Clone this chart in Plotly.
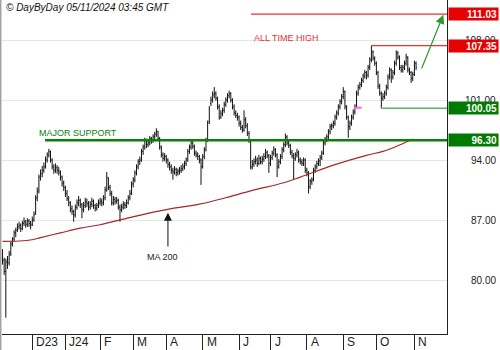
import pandas as pd
import plotly.graph_objects as go

# ---- trading calendar (NYSE sessions) ----
HOLIDAYS = ["2023-11-23", "2023-12-25", "2024-01-01", "2024-01-15", "2024-02-19",
            "2024-03-29", "2024-05-27", "2024-06-19", "2024-07-04", "2024-09-02"]
sessions = pd.bdate_range("2023-11-06", "2024-11-04", freq="C", holidays=HOLIDAYS)

# ---- daily OHLC ----
open_ = [
    83.0, 82.3, 81.0, 82.1, 82.0, 83.1, 84.2, 84.8, 85.5, 85.9,
    86.2, 86.4, 86.0, 86.6, 86.8, 86.5, 86.9, 86.6, 86.5, 87.0,
    87.8, 89.6, 90.4, 92.0, 92.4, 92.8, 93.3, 94.0, 94.6, 94.9,
    94.0, 93.2, 92.8, 93.1, 92.8, 92.5, 92.0, 91.3, 90.8, 90.1,
    89.5, 89.0, 88.3, 88.0, 87.6, 88.5, 89.0, 89.3, 88.8, 88.2,
    88.7, 89.1, 88.9, 88.5, 88.8, 89.2, 88.7, 88.4, 88.7, 89.0,
    89.2, 89.0, 89.6, 90.5, 91.8, 90.8, 90.1, 89.0, 89.4, 89.2,
    89.3, 88.5, 88.2, 88.5, 88.8, 88.7, 89.0, 89.6, 90.1, 91.2,
    91.7, 92.5, 93.2, 93.8, 94.0, 95.0, 95.5, 96.3, 95.8, 96.0,
    96.5, 96.3, 96.7, 97.0, 97.3, 96.5, 95.5, 94.6, 94.2, 94.4,
    94.0, 93.5, 93.2, 92.8, 92.6, 92.9, 92.5, 92.7, 92.8, 93.0,
    93.2, 93.6, 94.0, 95.0, 95.5, 96.0, 95.6, 94.8, 94.6, 94.4,
    94.0, 93.2, 94.4, 95.2, 96.3, 98.5, 100.6, 101.0, 101.6, 101.8,
    101.2, 100.2, 99.0, 99.4, 99.8, 100.5, 101.0, 101.5, 101.8, 101.0,
    100.2, 99.5, 99.2, 99.0, 98.3, 97.8, 97.5, 98.7, 98.0, 97.1,
    96.3, 93.2, 93.5, 93.8, 94.0, 93.6, 94.2, 93.8, 94.1, 94.4,
    94.9, 94.5, 93.6, 94.3, 94.8, 95.2, 94.6, 93.2, 93.8, 94.4,
    95.2, 95.8, 96.7, 96.0, 95.7, 94.9, 94.5, 94.2, 94.6, 94.9,
    94.0, 93.8, 93.6, 94.0, 92.8, 92.5, 90.9, 91.5, 91.7, 92.8,
    93.2, 93.6, 93.9, 94.3, 94.8, 96.0, 96.4, 96.7, 97.3, 97.9, 98.0,
    98.3, 99.0, 99.5, 100.2, 100.8, 101.4, 102.0, 100.2, 99.0, 97.9,
    98.3, 99.0, 99.6, 100.3, 101.8, 102.5, 102.8, 103.3, 103.8, 104.2,
    103.9, 104.8, 105.7, 106.6, 105.9, 105.3, 104.2, 102.6, 101.8, 101.2,
    101.4, 101.8, 102.5, 103.7, 104.5, 103.7, 104.2, 105.3, 106.5, 106.0,
    104.8, 104.5, 104.8, 105.3, 106.0, 104.5, 104.2, 103.5, 104.0, 105.3,
]
high = [
    83.6, 82.6, 82.5, 82.8, 83.4, 84.5, 85.0, 85.8, 86.1, 86.6,
    86.8, 86.6, 86.9, 87.3, 87.0, 87.2, 87.1, 86.9, 87.4, 88.0,
    89.9, 90.8, 92.3, 92.9, 93.3, 93.7, 94.4, 94.9, 95.3, 95.1,
    94.2, 93.5, 93.6, 93.4, 93.2, 92.8, 92.2, 91.6, 91.0, 90.5,
    89.8, 89.2, 88.7, 88.2, 88.8, 89.4, 89.8, 89.5, 89.0, 89.1,
    89.6, 89.5, 89.2, 89.2, 89.6, 89.4, 88.9, 89.0, 89.4, 89.6,
    89.5, 89.9, 90.9, 92.6, 92.0, 91.1, 90.4, 89.8, 89.7, 89.7,
    89.5, 88.8, 88.9, 89.2, 89.1, 89.4, 89.9, 90.5, 91.5, 92.0,
    92.8, 93.5, 94.1, 94.4, 95.3, 95.8, 96.6, 96.5, 96.3, 96.8,
    96.7, 97.0, 97.3, 97.7, 97.4, 96.7, 95.7, 94.9, 94.8, 94.6,
    94.2, 93.8, 93.5, 93.1, 93.3, 93.1, 93.0, 93.2, 93.4, 93.6,
    93.9, 94.3, 95.3, 95.8, 96.4, 96.2, 95.8, 95.1, 94.9, 94.6,
    94.2, 94.7, 95.5, 96.6, 98.6, 100.3, 101.4, 102.0, 102.5, 102.0,
    101.4, 100.5, 99.8, 100.1, 100.8, 101.3, 101.8, 102.1, 101.9, 101.2,
    100.5, 99.8, 99.5, 99.2, 98.6, 98.1, 99.8, 99.0, 98.3, 97.4,
    96.3, 94.0, 94.2, 94.5, 94.3, 94.6, 94.4, 94.5, 94.8, 95.3,
    95.1, 94.7, 94.6, 95.1, 95.6, 95.4, 94.8, 94.1, 94.7, 95.5,
    96.1, 97.1, 96.9, 96.3, 95.9, 95.2, 94.8, 94.9, 95.3, 95.1,
    94.3, 94.1, 94.3, 94.2, 93.1, 92.7, 91.8, 92.0, 93.1, 93.5,
    93.9, 94.2, 94.6, 95.1, 96.3, 96.7, 97.0, 97.6, 98.2, 98.3, 98.6,
    99.3, 99.8, 100.5, 101.1, 101.7, 102.5, 102.1, 100.4, 99.2, 98.6,
    99.3, 99.9, 100.5, 102.1, 102.8, 103.1, 103.6, 104.1, 104.5, 104.4,
    105.1, 106.0, 107.35, 106.8, 106.1, 105.5, 104.4, 102.9, 102.0, 101.8,
    102.1, 102.8, 104.0, 104.8, 104.7, 104.5, 105.6, 106.8, 106.7, 106.2,
    105.1, 105.1, 105.6, 106.4, 106.1, 104.8, 104.4, 104.3, 105.6, 105.5,
]
low = [
    81.8, 80.6, 75.6, 81.3, 81.7, 82.8, 83.9, 84.5, 85.0, 85.6,
    85.9, 85.6, 85.8, 86.3, 86.1, 86.2, 86.2, 85.9, 86.3, 86.8,
    87.6, 89.2, 90.1, 91.6, 92.0, 92.5, 93.0, 93.7, 94.3, 93.7,
    92.9, 92.4, 92.5, 92.4, 92.2, 91.6, 90.9, 90.4, 89.7, 89.2,
    88.6, 87.9, 87.6, 86.8, 87.3, 88.2, 88.6, 88.4, 87.2, 87.9,
    88.4, 88.5, 88.1, 88.2, 88.5, 88.3, 88.0, 88.1, 88.4, 88.7,
    88.6, 88.7, 89.3, 90.3, 90.5, 89.8, 88.7, 88.7, 88.8, 88.9,
    88.2, 86.8, 87.9, 88.2, 88.3, 88.4, 88.8, 89.3, 89.9, 90.8,
    91.4, 92.2, 92.9, 93.4, 93.8, 94.6, 95.2, 95.4, 95.5, 95.7,
    95.9, 96.0, 96.4, 96.7, 96.2, 95.2, 94.3, 93.8, 93.9, 93.6,
    93.1, 92.8, 92.4, 91.7, 92.3, 92.1, 92.2, 92.3, 92.5, 92.7,
    92.9, 93.3, 93.8, 94.7, 95.2, 95.3, 94.5, 94.3, 94.0, 93.6,
    91.1, 93.0, 94.1, 95.0, 96.1, 98.2, 100.3, 100.7, 101.2, 100.9,
    99.9, 98.7, 98.8, 99.1, 99.5, 100.2, 100.7, 101.2, 100.7, 99.9,
    99.2, 98.9, 98.6, 97.9, 97.5, 97.2, 97.3, 97.7, 96.8, 96.0,
    92.9, 92.9, 93.2, 93.5, 93.2, 93.4, 93.5, 93.5, 93.8, 94.1,
    94.2, 92.5, 93.3, 94.0, 94.5, 94.3, 92.0, 93.0, 93.5, 94.1,
    94.9, 95.5, 95.7, 95.4, 94.6, 94.2, 91.7, 93.9, 94.3, 93.7,
    93.5, 93.3, 93.3, 92.5, 92.1, 90.1, 90.6, 91.1, 91.5, 92.5,
    92.9, 93.3, 93.3, 94.0, 94.6, 95.7, 96.1, 96.4, 97.0, 97.5, 97.7,
    98.0, 98.7, 99.2, 99.9, 100.5, 101.1, 99.9, 98.7, 96.6, 97.5,
    98.0, 98.7, 99.3, 100.1, 101.5, 102.2, 102.5, 103.0, 103.5, 103.4,
    103.6, 104.5, 105.4, 105.6, 105.0, 103.9, 102.3, 101.5, 100.05, 100.9,
    101.1, 101.5, 102.2, 103.4, 103.0, 103.4, 103.9, 105.0, 105.7, 104.5,
    104.2, 104.2, 104.5, 105.0, 104.2, 103.9, 103.0, 103.2, 103.8, 104.5,
]
close = [
    82.3, 81.0, 82.1, 82.0, 83.0, 84.2, 84.7, 85.5, 85.8, 86.2,
    86.4, 86.0, 86.6, 86.8, 86.5, 86.9, 86.6, 86.4, 87.0, 87.6,
    89.5, 90.3, 92.0, 92.4, 92.8, 93.2, 94.0, 94.6, 95.0, 94.0,
    93.2, 92.8, 93.1, 92.8, 92.6, 92.0, 91.3, 90.8, 90.1, 89.5,
    89.0, 88.3, 88.0, 87.6, 88.5, 89.0, 89.3, 88.8, 88.2, 88.7,
    89.1, 88.9, 88.5, 88.8, 89.2, 88.7, 88.4, 88.7, 89.0, 89.2,
    89.0, 89.6, 90.5, 92.0, 90.8, 90.1, 89.0, 89.4, 89.2, 89.3,
    88.5, 88.2, 88.5, 88.8, 88.7, 89.0, 89.6, 90.1, 91.2, 91.7,
    92.5, 93.2, 93.8, 94.0, 95.0, 95.5, 96.3, 95.8, 96.0, 96.5,
    96.3, 96.7, 97.0, 97.3, 96.5, 95.5, 94.6, 94.2, 94.4, 94.0,
    93.5, 93.2, 92.8, 92.6, 92.9, 92.5, 92.7, 92.8, 93.0, 93.2,
    93.6, 94.0, 95.0, 95.5, 96.0, 95.6, 94.8, 94.6, 94.4, 94.0,
    93.2, 94.4, 95.2, 96.3, 98.3, 100.0, 101.0, 101.6, 101.8, 101.2,
    100.2, 99.0, 99.4, 99.8, 100.5, 101.0, 101.5, 101.8, 101.0, 100.2,
    99.5, 99.2, 99.0, 98.3, 97.8, 97.5, 98.7, 98.0, 97.1, 96.3,
    93.2, 93.5, 93.8, 94.0, 93.6, 94.2, 93.8, 94.1, 94.4, 94.9,
    94.5, 93.6, 94.3, 94.8, 95.2, 94.6, 93.2, 93.8, 94.4, 95.2,
    95.8, 96.7, 96.0, 95.7, 94.9, 94.5, 94.2, 94.6, 94.9, 94.0,
    93.8, 93.6, 94.0, 92.8, 92.5, 90.9, 91.5, 91.7, 92.8, 93.2,
    93.6, 93.9, 94.3, 94.8, 96.0, 96.4, 96.7, 97.3, 97.9, 98.0, 98.3,
    99.0, 99.5, 100.2, 100.8, 101.4, 102.0, 100.2, 99.0, 97.9, 98.3,
    99.0, 99.6, 100.2, 101.8, 102.5, 102.8, 103.3, 103.8, 104.2, 103.9,
    104.8, 105.7, 106.6, 105.9, 105.3, 104.2, 102.6, 101.8, 101.2, 101.4,
    101.8, 102.5, 103.7, 104.5, 103.7, 104.2, 105.3, 106.5, 106.0, 104.8,
    104.5, 104.8, 105.3, 106.0, 104.5, 104.2, 103.5, 104.0, 105.3, 104.8,
]

# ---- 200-day moving average (session index, value) ----
ma_idx = [0, 10, 18, 23, 35, 47, 59, 75, 92, 100, 119, 135, 150, 170, 180, 200, 220, 230, 240, 248]
ma_val = [84.5, 84.55, 84.7, 84.95, 85.5, 86.05, 86.45, 87.2, 87.95, 88.25, 88.85,
          89.6, 90.4, 91.35, 92.0, 93.4, 94.55, 95.0, 95.75, 96.45]

# ---- levels and labels ----
TARGET = 111.03
SUPPORT = 96.30
GAP_MARK = 100.1
Y_TICKS = [80, 87, 94, 101, 108]
MONTH_LABELS = ["D23", "J24", "F", "M", "A", "M", "J", "J", "A", "S", "O", "N"]
STAMP = "© DayByDay 05/11/2024 03:45 GMT"

FONT = "Liberation Sans, Arial, sans-serif"
RED = "#e8302c"
BOX_RED = "#e60000"
BOX_GREEN = "#007a00"
DARK_GREEN = "#0a820a"
LIGHT_GREEN = "#5cb85c"
MA_COLOR = "#a3282b"

n = len(close)
assert len(open_) == len(high) == len(low) == n == len(sessions)
idx = list(range(n))

ath = max(high)
ath_i = high.index(ath)
recent_low = min(low[-30:])
recent_low_i = n - 30 + low[-30:].index(recent_low)

X0, X1 = -0.32, 268.7
Y0, Y1 = 73.70, 112.67

# first session of each month from December onward
month_starts = [i for i in range(1, n) if sessions[i].month != sessions[i - 1].month]

fig = go.Figure()
fig.add_trace(go.Ohlc(
    x=idx, open=open_, high=high, low=low, close=close,
    increasing=dict(line=dict(color="#111", width=1)),
    decreasing=dict(line=dict(color="#111", width=1)),
    tickwidth=0.45, hoverinfo="skip",
))
fig.add_trace(go.Scatter(
    x=ma_idx, y=ma_val, mode="lines",
    line=dict(color=MA_COLOR, width=1.2, shape="spline"), hoverinfo="skip",
))

shapes = [
    dict(type="line", xref="x", yref="y", x0=150.2, x1=X1, y0=TARGET, y1=TARGET,
         line=dict(color=RED, width=1.2)),
    dict(type="line", xref="x", yref="y", x0=ath_i, x1=X1, y0=ath, y1=ath,
         line=dict(color=RED, width=1.2)),
    dict(type="line", xref="x", yref="y", x0=recent_low_i, x1=X1, y0=recent_low, y1=recent_low,
         line=dict(color=LIGHT_GREEN, width=1.5)),
    dict(type="line", xref="x", yref="y", x0=25.7, x1=X1, y0=SUPPORT, y1=SUPPORT,
         line=dict(color=DARK_GREEN, width=2.6)),
    dict(type="line", xref="x", yref="y", x0=212.4, x1=217.1, y0=GAP_MARK, y1=GAP_MARK,
         line=dict(color="#ff66e6", width=2)),
    # left frame edge
    dict(type="line", xref="paper", yref="paper", x0=-1.3 / 445, x1=-1.3 / 445,
         y0=-16 / 334, y1=1, line=dict(color="#a0a0a0", width=1.5)),
]

annotations = []
# price scale labels
for v in Y_TICKS:
    annotations.append(dict(
        xref="paper", yref="y", x=(498 - 2) / 445, y=v, xanchor="right", yanchor="middle",
        text=f"{v:.2f}", showarrow=False, font=dict(size=10, color="#222", family=FONT)))
# level value boxes
for v, col in [(TARGET, BOX_RED), (ath, BOX_RED), (recent_low, BOX_GREEN), (SUPPORT, BOX_GREEN)]:
    annotations.append(dict(
        xref="paper", yref="y", x=(448 - 2) / 445, y=v, xanchor="left", yanchor="middle",
        text=f"<b>{v:.2f}</b>", showarrow=False, bgcolor=col, width=47, height=10,
        borderpad=1, align="right", valign="middle",
        font=dict(size=10, color="white", family=FONT)))
# month labels
for i, lab in zip(month_starts, MONTH_LABELS):
    annotations.append(dict(
        xref="x", yref="paper", x=i, y=-8 / 334, xanchor="left", yanchor="middle",
        xshift=2, text=lab, showarrow=False, font=dict(size=12, color="#222", family=FONT)))
# text notes
annotations += [
    dict(xref="paper", yref="paper", x=2 / 445, y=(334 - 7) / 334, xanchor="left",
         yanchor="middle", text=f"<i>{STAMP}</i>", showarrow=False,
         font=dict(size=10, color="#111", family=FONT)),
    dict(xref="x", yref="y", x=150.6, y=108.2, xanchor="left", yanchor="middle",
         text="ALL TIME HIGH", showarrow=False, font=dict(size=9, color=RED, family=FONT)),
    dict(xref="x", yref="y", x=20.7, y=97.18, xanchor="left", yanchor="middle",
         text="MAJOR SUPPORT", showarrow=False, font=dict(size=9, color=DARK_GREEN, family=FONT)),
    dict(xref="x", yref="y", x=96.6, y=82.72, xanchor="center", yanchor="middle",
         text="MA 200", showarrow=False, font=dict(size=9, color="#222", family=FONT)),
    # pointer to the moving average
    dict(xref="x", yref="y", axref="x", ayref="y", x=100.0, y=87.85, ax=100.0, ay=83.73,
         text="", showarrow=True, arrowhead=2, arrowsize=1.6, arrowwidth=1, arrowcolor="#111"),
    # projected move toward the target
    dict(xref="x", yref="y", axref="x", ayref="y", x=266.5, y=110.95, ax=253.0, ay=104.5,
         text="", showarrow=True, arrowhead=2, arrowsize=1.5, arrowwidth=1.2, arrowcolor="#2a9a2a"),
]

fig.update_layout(
    width=500, height=350,
    margin=dict(l=2, r=53, t=0, b=16),
    paper_bgcolor="white", plot_bgcolor="white",
    showlegend=False, shapes=shapes, annotations=annotations,
    font=dict(family=FONT),
    xaxis=dict(range=[X0, X1], showgrid=False, zeroline=False, showline=True,
               linecolor="#222", linewidth=1, ticks="outside", ticklen=16, tickcolor="#222",
               tickwidth=1, tickvals=month_starts, showticklabels=False,
               rangeslider=dict(visible=False), fixedrange=True),
    yaxis=dict(range=[Y0, Y1], side="right", tickvals=Y_TICKS, showticklabels=False,
               showgrid=True, gridcolor="#e6e6e6", gridwidth=1, zeroline=False,
               showline=True, linecolor="#222", linewidth=1, ticks="", fixedrange=True),
)

fig.write_html("out.html")
